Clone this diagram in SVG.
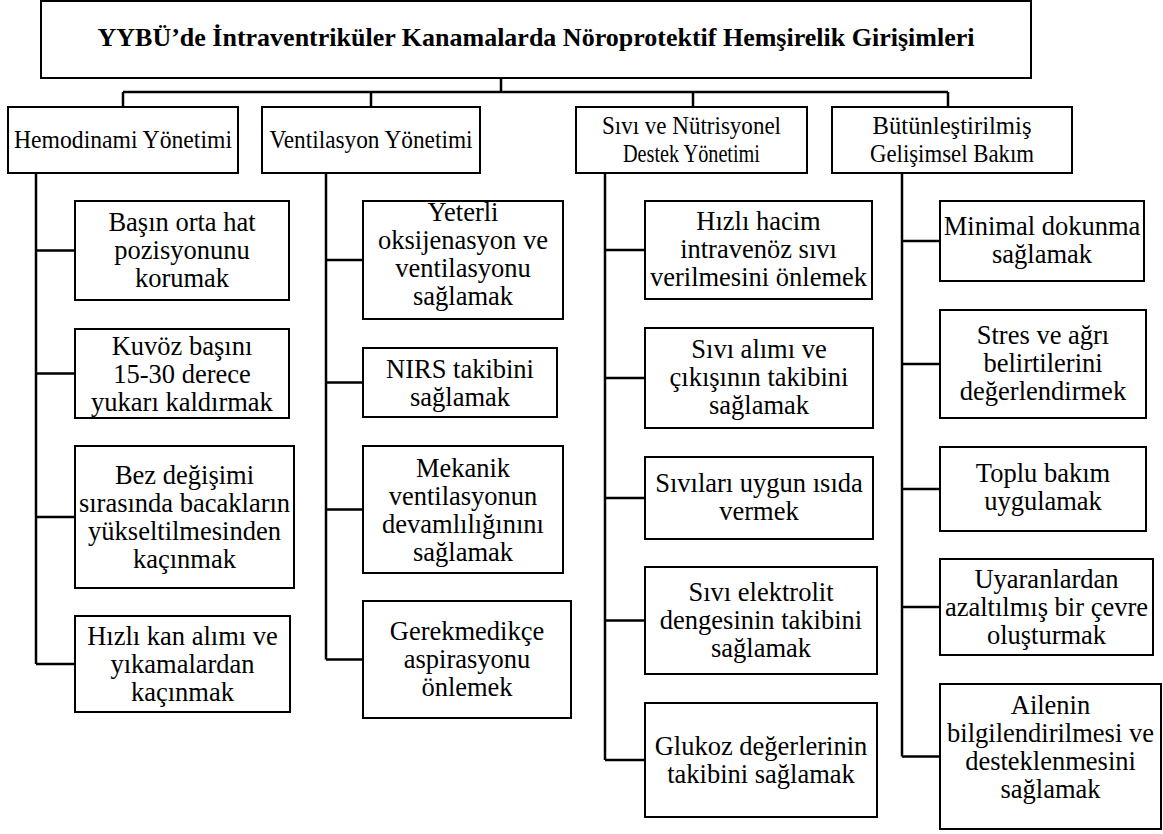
<svg xmlns="http://www.w3.org/2000/svg" width="1163" height="834" viewBox="0 0 1163 834">
<style>
.bg{fill:#ffffff}
.box{fill:#ffffff;stroke:#000000;stroke-width:2}
.ln{fill:none;stroke:#000000;stroke-width:2.5}
text{font-family:"Liberation Serif","Times New Roman",serif;fill:#000000;text-anchor:middle}
.title{font-size:26px;font-weight:bold}
.h1{font-size:25px}
.t{font-size:26.5px}
</style>
<rect class="bg" x="0" y="0" width="1163" height="834"/>
<g id="connectors">
<path class="ln" d="M501 78V92M123 92H948M123 92V107M371 92V107M693 92V107M948 92V107"/>
<path class="ln" d="M36 173V664M36 250.5H75M36 373.5H75M36 517H75M36 664H75"/>
<path class="ln" d="M326 173V659.5M326 260H363M326 382.5H363M326 509.5H363M326 659.5H363"/>
<path class="ln" d="M605 173V760M605 250H645M605 378H645M605 498H645M605 620.5H645M605 760H645"/>
<path class="ln" d="M902 173V756.5M902 241H940M902 364H940M902 489H940M902 607H940M902 756.5H940"/>
</g>
<g id="title">
<rect class="box" x="41" y="1" width="990" height="77"/>
<text class="title" x="536" y="46">YYBÜ’de İntraventriküler Kanamalarda Nöroprotektif Hemşirelik Girişimleri</text>
</g>
<g id="hemodinami">
<rect class="box" x="8" y="107" width="230" height="66"/>
<text class="h1" x="123" y="148" textLength="218" lengthAdjust="spacingAndGlyphs">Hemodinami Yönetimi</text>
</g>
<g id="ventilasyon">
<rect class="box" x="262" y="107" width="218" height="66"/>
<text class="h1" x="371" y="148" textLength="203" lengthAdjust="spacingAndGlyphs">Ventilasyon Yönetimi</text>
</g>
<g id="sivi">
<rect class="box" x="576" y="107" width="231" height="66"/>
<text class="h1" x="691.5" y="133.5" textLength="179" lengthAdjust="spacingAndGlyphs">Sıvı ve Nütrisyonel</text>
<text class="h1" x="691.5" y="161.5" textLength="137" lengthAdjust="spacingAndGlyphs">Destek Yönetimi</text>
</g>
<g id="butunlestirilmis">
<rect class="box" x="832" y="107" width="240" height="66"/>
<text class="h1" x="952" y="133.5" textLength="159" lengthAdjust="spacingAndGlyphs">Bütünleştirilmiş</text>
<text class="h1" x="952" y="161.5" textLength="164" lengthAdjust="spacingAndGlyphs">Gelişimsel Bakım</text>
</g>
<g id="h1">
<rect class="box" x="75" y="201" width="214" height="99"/>
<text class="t" x="182" y="231">Başın orta hat</text>
<text class="t" x="182" y="259">pozisyonunu</text>
<text class="t" x="182" y="287">korumak</text>
</g>
<g id="h2">
<rect class="box" x="75" y="329" width="214" height="89"/>
<text class="t" x="182" y="355">Kuvöz başını</text>
<text class="t" x="182" y="383">15-30 derece</text>
<text class="t" x="182" y="411">yukarı kaldırmak</text>
</g>
<g id="h3">
<rect class="box" x="75" y="446" width="219" height="142"/>
<text class="t" x="184.5" y="484">Bez değişimi</text>
<text class="t" x="184.5" y="512">sırasında bacakların</text>
<text class="t" x="184.5" y="540">yükseltilmesinden</text>
<text class="t" x="184.5" y="568">kaçınmak</text>
</g>
<g id="h4">
<rect class="box" x="75" y="616" width="215" height="96"/>
<text class="t" x="182.5" y="645">Hızlı kan alımı ve</text>
<text class="t" x="182.5" y="673">yıkamalardan</text>
<text class="t" x="182.5" y="701">kaçınmak</text>
</g>
<g id="v1">
<rect class="box" x="363" y="201" width="200" height="118"/>
<text class="t" x="463" y="221">Yeterli</text>
<text class="t" x="463" y="249">oksijenasyon ve</text>
<text class="t" x="463" y="277">ventilasyonu</text>
<text class="t" x="463" y="305">sağlamak</text>
</g>
<g id="v2">
<rect class="box" x="363" y="348" width="194" height="69"/>
<text class="t" x="460" y="377.5">NIRS takibini</text>
<text class="t" x="460" y="405.5">sağlamak</text>
</g>
<g id="v3">
<rect class="box" x="363" y="446" width="200" height="127"/>
<text class="t" x="463" y="476.5">Mekanik</text>
<text class="t" x="463" y="504.5">ventilasyonun</text>
<text class="t" x="463" y="532.5">devamlılığınını</text>
<text class="t" x="463" y="560.5">sağlamak</text>
</g>
<g id="v4">
<rect class="box" x="363" y="601" width="208" height="117"/>
<text class="t" x="467" y="640">Gerekmedikçe</text>
<text class="t" x="467" y="668">aspirasyonu</text>
<text class="t" x="467" y="696">önlemek</text>
</g>
<g id="s1">
<rect class="box" x="645" y="201" width="227" height="98"/>
<text class="t" x="758.5" y="230">Hızlı hacim</text>
<text class="t" x="758.5" y="258">intravenöz sıvı</text>
<text class="t" x="758.5" y="286">verilmesini önlemek</text>
</g>
<g id="s2">
<rect class="box" x="645" y="328" width="228" height="100"/>
<text class="t" x="759" y="358">Sıvı alımı ve</text>
<text class="t" x="759" y="386">çıkışının takibini</text>
<text class="t" x="759" y="414">sağlamak</text>
</g>
<g id="s3">
<rect class="box" x="645" y="457" width="228" height="82"/>
<text class="t" x="759" y="492">Sıvıları uygun ısıda</text>
<text class="t" x="759" y="520">vermek</text>
</g>
<g id="s4">
<rect class="box" x="645" y="567" width="232" height="107"/>
<text class="t" x="761" y="600.5">Sıvı elektrolit</text>
<text class="t" x="761" y="628.5">dengesinin takibini</text>
<text class="t" x="761" y="656.5">sağlamak</text>
</g>
<g id="s5">
<rect class="box" x="645" y="703" width="232" height="114"/>
<text class="t" x="761" y="755">Glukoz değerlerinin</text>
<text class="t" x="761" y="783">takibini sağlamak</text>
</g>
<g id="b1">
<rect class="box" x="940" y="201" width="204" height="80"/>
<text class="t" x="1042" y="235">Minimal dokunma</text>
<text class="t" x="1042" y="263">sağlamak</text>
</g>
<g id="b2">
<rect class="box" x="940" y="310" width="206" height="108"/>
<text class="t" x="1043" y="344">Stres ve ağrı</text>
<text class="t" x="1043" y="372">belirtilerini</text>
<text class="t" x="1043" y="400">değerlendirmek</text>
</g>
<g id="b3">
<rect class="box" x="940" y="447" width="206" height="84"/>
<text class="t" x="1043" y="482">Toplu bakım</text>
<text class="t" x="1043" y="510">uygulamak</text>
</g>
<g id="b4">
<rect class="box" x="940" y="559" width="213" height="96"/>
<text class="t" x="1046.5" y="587.5">Uyaranlardan</text>
<text class="t" x="1046.5" y="615.5">azaltılmış bir çevre</text>
<text class="t" x="1046.5" y="643.5">oluşturmak</text>
</g>
<g id="b5">
<rect class="box" x="940" y="684" width="221" height="145"/>
<text class="t" x="1050.5" y="713.5">Ailenin</text>
<text class="t" x="1050.5" y="741.5">bilgilendirilmesi ve</text>
<text class="t" x="1050.5" y="769.5">desteklenmesini</text>
<text class="t" x="1050.5" y="797.5">sağlamak</text>
</g>
</svg>
